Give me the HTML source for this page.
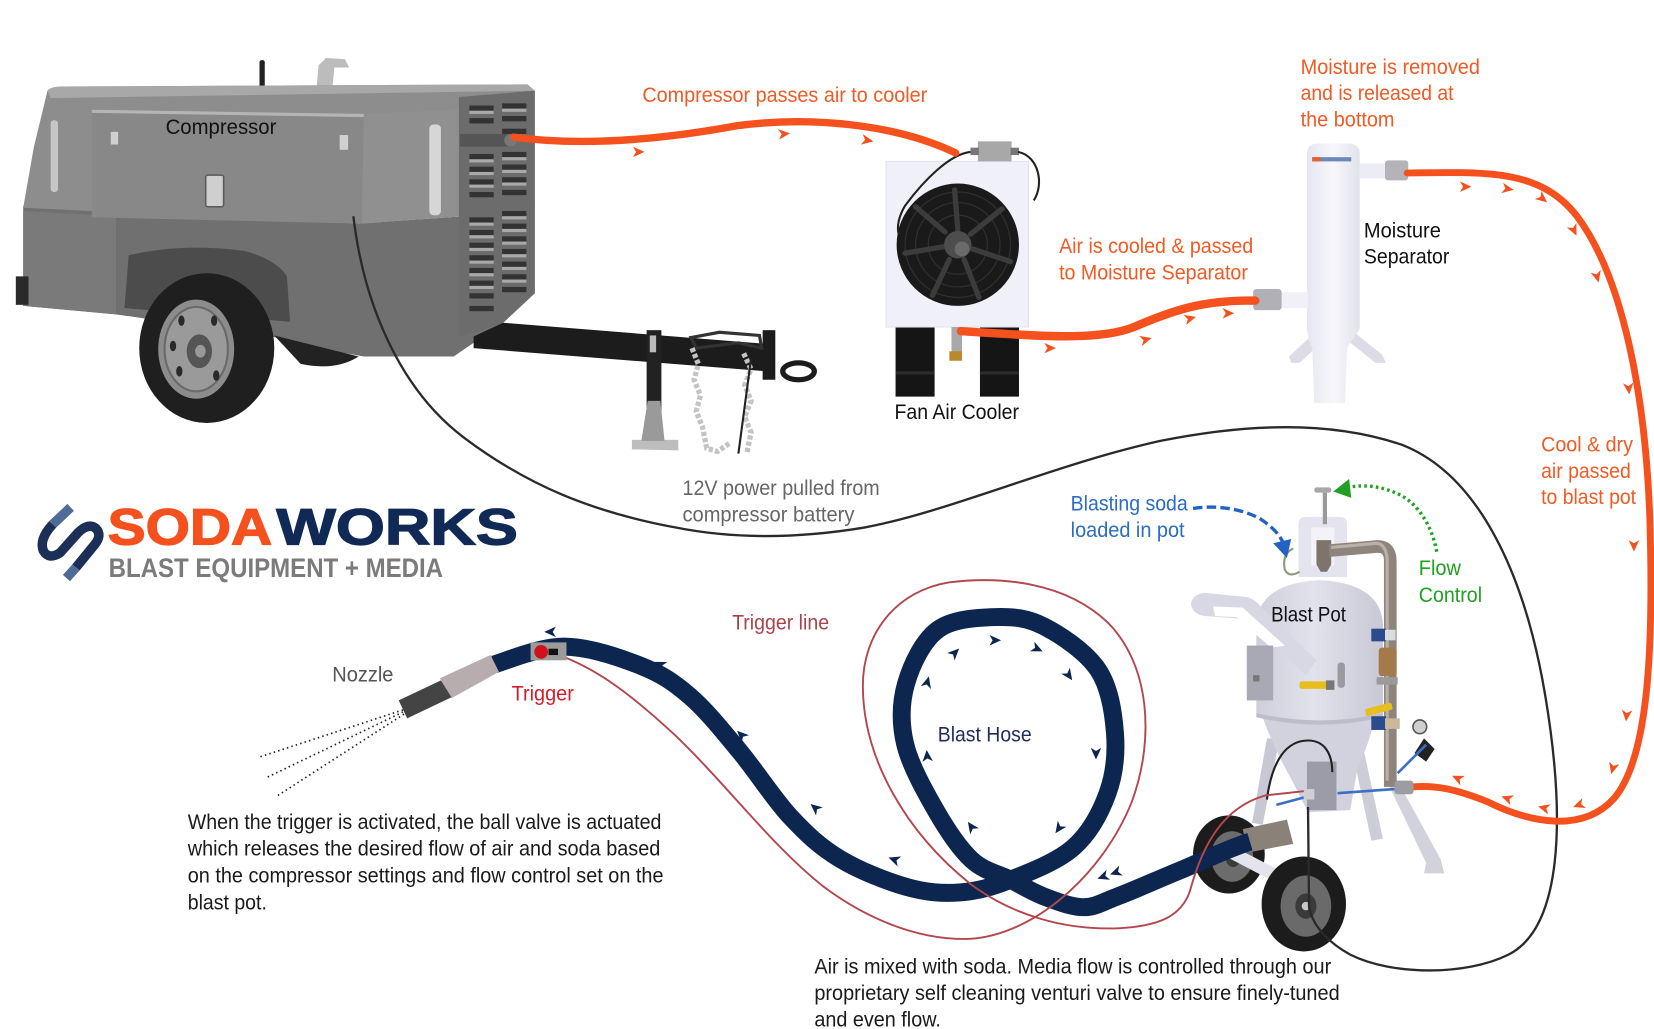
<!DOCTYPE html>
<html><head><meta charset="utf-8"><style>
html,body{margin:0;padding:0;background:#fff;}
svg{display:block;}
text{font-family:"Liberation Sans",Arial,sans-serif;}
</style></head><body>
<svg width="1654" height="1029" viewBox="0 0 1568 975.5" preserveAspectRatio="none" xmlns="http://www.w3.org/2000/svg">
<defs>
<linearGradient id="sep" x1="0" x2="1" y1="0" y2="0"><stop offset="0" stop-color="#e6e6f0"/><stop offset="0.5" stop-color="#f7f7fc"/><stop offset="1" stop-color="#e2e2ec"/></linearGradient>
<linearGradient id="tank" x1="0" x2="1" y1="0" y2="0"><stop offset="0" stop-color="#cfcfdc"/><stop offset="0.45" stop-color="#e2e2ec"/><stop offset="1" stop-color="#c8c8d6"/></linearGradient>
</defs>
<rect x="0" y="0" width="1568" height="976" fill="#fff"/>

<!-- ============ COMPRESSOR ============ -->
<g>
<rect x="246" y="57" width="5" height="26" rx="2" fill="#222"/>
<path d="M300,84 L302,62 L309,55 L327,56 L331,64 L317,64 L315,84 Z" fill="#bcbcbc"/>
<path d="M22,195 L340,212 L440,205 L507,188 L507,278 L477,306 L430,338 L345,338 L300,330 L262,320 L110,298 L22,290 Z" fill="#707070"/>
<path d="M22,200 L110,205 L110,298 L22,290 Z" fill="#7a7a7a"/>
<rect x="15" y="262" width="12" height="27" fill="#2a2a2a"/>
<path d="M45,86 Q48,82 60,82 L500,80 L507,86 L507,190 L440,205 L340,212 L22,197 L32,140 Z" fill="#8d8d8d"/>
<path d="M45,86 Q48,82 60,82 L500,80 L507,86 L48,93 Z" fill="#a8a8a8"/>
<path d="M87,104 L345,108 L343,212 L87,206 Z" fill="#888888"/>
<path d="M87,104 L345,108 L345,111 L87,107 Z" fill="#b5b5b5"/>
<path d="M345,108 L435,104 L435,205 L343,212 Z" fill="#909090"/>
<rect x="407" y="118" width="11" height="86" rx="4" fill="#d6d6d6"/>
<rect x="48" y="114" width="7" height="68" rx="3" fill="#c6c6c6"/>
<rect x="195" y="166" width="17" height="30" rx="2" fill="#cfcfcf" stroke="#5a5a5a" stroke-width="1.5"/>
<rect x="105" y="125" width="7" height="12" fill="#d0d0d0"/>
<rect x="322" y="128" width="8" height="14" fill="#d0d0d0"/>
<path d="M435,92 L507,86 L507,278 L477,306 L435,320 Z" fill="#6c6c6c"/>
<g fill="#333">
<rect x="445" y="100" width="23" height="5"/><rect x="476" y="98" width="23" height="5"/>
<rect x="445" y="112" width="23" height="5"/><rect x="476" y="110" width="23" height="5"/>
<rect x="476" y="122" width="23" height="5"/>
<rect x="445" y="146" width="23" height="5"/><rect x="476" y="144" width="23" height="5"/>
<rect x="445" y="158" width="23" height="5"/><rect x="476" y="156" width="23" height="5"/>
<rect x="445" y="170" width="23" height="5"/><rect x="476" y="168" width="23" height="5"/>
<rect x="445" y="182" width="23" height="5"/><rect x="476" y="180" width="23" height="5"/>
<rect x="445" y="206" width="23" height="5"/><rect x="476" y="200" width="23" height="5"/>
<rect x="445" y="218" width="23" height="5"/><rect x="476" y="212" width="23" height="5"/>
<rect x="445" y="230" width="23" height="5"/><rect x="476" y="224" width="23" height="5"/>
<rect x="445" y="242" width="23" height="5"/><rect x="476" y="236" width="23" height="5"/>
<rect x="445" y="254" width="23" height="5"/><rect x="476" y="248" width="23" height="5"/>
<rect x="445" y="266" width="23" height="5"/><rect x="476" y="260" width="23" height="5"/>
<rect x="445" y="278" width="23" height="5"/><rect x="476" y="272" width="23" height="5"/>
<rect x="445" y="290" width="23" height="5"/>
</g>
<g fill="#a9a9a9">
<rect x="445" y="105" width="23" height="3"/><rect x="476" y="103" width="23" height="3"/>
<rect x="445" y="151" width="23" height="3"/><rect x="476" y="149" width="23" height="3"/>
<rect x="445" y="163" width="23" height="3"/><rect x="476" y="161" width="23" height="3"/>
<rect x="445" y="175" width="23" height="3"/><rect x="476" y="173" width="23" height="3"/>
<rect x="445" y="211" width="23" height="3"/><rect x="476" y="205" width="23" height="3"/>
<rect x="445" y="223" width="23" height="3"/><rect x="476" y="217" width="23" height="3"/>
<rect x="445" y="235" width="23" height="3"/><rect x="476" y="229" width="23" height="3"/>
<rect x="445" y="247" width="23" height="3"/><rect x="476" y="241" width="23" height="3"/>
<rect x="445" y="259" width="23" height="3"/><rect x="476" y="253" width="23" height="3"/>
<rect x="445" y="271" width="23" height="3"/><rect x="476" y="265" width="23" height="3"/>
</g>
<rect x="436" y="127" width="50" height="12" fill="#555"/>
<circle cx="484" cy="133" r="6" fill="#777"/>
<path d="M118,292 L122,242 Q175,230 232,238 Q262,246 272,262 L275,305 Z" fill="#4c4c4c"/>
<path d="M260,318 L340,338 Q318,352 285,345 Z" fill="#222"/>
<ellipse cx="196" cy="330" rx="64" ry="71" fill="#1f1f1f"/>
<ellipse cx="186" cy="331" rx="36" ry="47" fill="#8c8c8c"/>
<ellipse cx="186" cy="331" rx="30" ry="40" fill="#9a9a9a" stroke="#6a6a6a" stroke-width="2"/>
<ellipse cx="189" cy="333" rx="12" ry="16" fill="#555"/>
<ellipse cx="190" cy="333" rx="5" ry="6" fill="#999"/>
<g fill="#2a2a2a"><ellipse cx="172" cy="304" rx="3" ry="5"/><ellipse cx="203" cy="304" rx="3" ry="5"/><ellipse cx="170" cy="352" rx="3" ry="5"/><ellipse cx="205" cy="356" rx="3" ry="5"/><ellipse cx="164" cy="328" rx="3" ry="5"/></g>
<path d="M449,319 L477,306 L727,326 L727,352 L449,330 Z" fill="#1c1c1c"/>
<rect x="723" y="313" width="12" height="47" fill="#1c1c1c"/>
<ellipse cx="757" cy="352" rx="15" ry="8" fill="none" stroke="#1c1c1c" stroke-width="5"/>
<rect x="613" y="313" width="14" height="108" fill="#222"/>
<rect x="616" y="318" width="6" height="16" fill="#bbb"/>
<path d="M599,417 L643,417 L643,427 L599,426 Z" fill="#bdbdbd"/>
<path d="M608,418 L614,380 L626,380 L630,418 Z" fill="#9a9a9a"/>
<path d="M655,320 L682,315 L720,318 L722,330 L700,325 L660,330 Z" fill="none" stroke="#333" stroke-width="3"/>
<path d="M656,330 L662,345 L658,360 L664,375 L660,390 L666,405 L670,425 L680,428 L692,420" fill="none" stroke="#c4c4c4" stroke-width="5" stroke-dasharray="4,2"/>
<path d="M705,335 L712,350 L706,365 L712,380 L706,395 L712,410 L708,430" fill="none" stroke="#c4c4c4" stroke-width="5" stroke-dasharray="4,2"/>
<path d="M712,340 L700,430" stroke="#222" stroke-width="2"/>
</g>

<!-- 12V black cable -->
<path d="M335,205 C345,290 380,370 440,415 C500,460 560,485 640,500 C700,512 760,510 820,500 C900,485 1000,440 1100,418 C1180,402 1260,398 1330,422 C1400,450 1445,540 1465,660 C1485,780 1480,880 1430,905 C1390,925 1320,925 1280,905" fill="none" stroke="#2a2a2a" stroke-width="2.2"/>

<!-- ============ FAN AIR COOLER ============ -->
<g>
<rect x="849" y="310" width="37" height="66" fill="#151515"/>
<rect x="929" y="310" width="37" height="66" fill="#151515"/>
<rect x="849" y="352" width="37" height="3" fill="#2c2c2c"/>
<rect x="929" y="352" width="37" height="3" fill="#2c2c2c"/>
<rect x="840" y="153" width="135" height="157" fill="#f0f0f8" stroke="#e2e2ec" stroke-width="1"/>
<circle cx="908" cy="232" r="58" fill="#1a1a1a"/>
<g stroke="#2f2f2f" fill="none" stroke-width="1.2"><circle cx="908" cy="232" r="50"/><circle cx="908" cy="232" r="40"/><circle cx="908" cy="232" r="28"/></g>
<g stroke="#3c3c3c" stroke-width="5" stroke-linecap="round">
<path d="M908,218 L905,180"/><path d="M920,222 L950,198"/><path d="M922,236 L958,248"/><path d="M914,246 L928,282"/><path d="M900,246 L884,280"/><path d="M894,234 L858,240"/><path d="M896,220 L868,196"/>
</g>
<circle cx="908" cy="232" r="13" fill="#4d4d4d"/>
<circle cx="912" cy="236" r="7" fill="#6a6a6a"/>
<rect x="927" y="134" width="32" height="19" fill="#a8a8a8"/>
<rect x="920" y="140" width="8" height="7" fill="#777"/>
<rect x="958" y="140" width="8" height="7" fill="#777"/>
<path d="M920,144 C900,146 875,172 858,195 C852,205 850,215 852,222" fill="none" stroke="#222" stroke-width="2"/>
<path d="M965,144 C985,148 990,175 980,190" fill="none" stroke="#222" stroke-width="2"/>
<rect x="902" y="310" width="10" height="24" fill="#a9a9a9"/>
<rect x="900" y="333" width="12" height="9" fill="#b98a2c"/>
</g>

<!-- ============ MOISTURE SEPARATOR ============ -->
<g>
<path d="M1250,312 L1222,338 L1224,344 L1232,344 L1258,320 Z" fill="#dcdce6"/>
<path d="M1280,312 L1310,336 L1314,344 L1304,344 L1274,320 Z" fill="#dcdce6"/>
<path d="M1239,312 L1239,146 Q1239,136 1250,136 L1278,136 Q1289,136 1289,146 L1289,312 Q1280,325 1277,330 L1275,382 L1246,382 L1244,330 Q1240,322 1239,312 Z" fill="url(#sep)"/>
<rect x="1289" y="155" width="26" height="14" fill="#ececf4"/>
<rect x="1313" y="152" width="22" height="19" rx="3" fill="#b3b3b8"/>
<rect x="1214" y="277" width="26" height="15" fill="#f0f0f6"/>
<rect x="1188" y="274" width="27" height="20" rx="3" fill="#b0b0b6"/>
<rect x="1244" y="149" width="37" height="4" fill="#6d88b8"/>
<rect x="1244" y="149" width="8" height="4" fill="#e8602c"/>
</g>

<!-- ============ ORANGE HOSES ============ -->
<g fill="none" stroke="#f4511e" stroke-linecap="round">
<path d="M487,130 C560,140 640,130 700,119 C770,110 850,118 906,145" stroke-width="7"/>
<path d="M911,314 C980,318 1040,324 1075,310 C1110,295 1140,284 1190,285" stroke-width="8"/>
<path d="M1334,164 C1410,163 1460,160 1495,205 C1540,265 1560,380 1564,490 C1568,620 1562,720 1530,757 C1500,790 1450,780 1410,760 C1380,748 1360,744 1339,746" stroke-width="6.5"/>
</g>
<g fill="#f4511e">
<path d="M6,0 L-5,-5 L-2,0 L-5,5 Z" transform="translate(605,144) rotate(0)"/>
<path d="M6,0 L-5,-5 L-2,0 L-5,5 Z" transform="translate(743,127) rotate(-5)"/>
<path d="M6,0 L-5,-5 L-2,0 L-5,5 Z" transform="translate(822,133) rotate(10)"/>
<path d="M6,0 L-5,-5 L-2,0 L-5,5 Z" transform="translate(995,330) rotate(0)"/>
<path d="M6,0 L-5,-5 L-2,0 L-5,5 Z" transform="translate(1086,322) rotate(-15)"/>
<path d="M6,0 L-5,-5 L-2,0 L-5,5 Z" transform="translate(1128,302) rotate(-15)"/>
<path d="M6,0 L-5,-5 L-2,0 L-5,5 Z" transform="translate(1164,297) rotate(0)"/>
<path d="M6,0 L-5,-5 L-2,0 L-5,5 Z" transform="translate(1389,177) rotate(0)"/>
<path d="M6,0 L-5,-5 L-2,0 L-5,5 Z" transform="translate(1429,179) rotate(10)"/>
<path d="M6,0 L-5,-5 L-2,0 L-5,5 Z" transform="translate(1462,188) rotate(40)"/>
<path d="M6,0 L-5,-5 L-2,0 L-5,5 Z" transform="translate(1492,218) rotate(65)"/>
<path d="M6,0 L-5,-5 L-2,0 L-5,5 Z" transform="translate(1514,262) rotate(75)"/>
<path d="M6,0 L-5,-5 L-2,0 L-5,5 Z" transform="translate(1544,368) rotate(85)"/>
<path d="M6,0 L-5,-5 L-2,0 L-5,5 Z" transform="translate(1549,517) rotate(90)"/>
<path d="M6,0 L-5,-5 L-2,0 L-5,5 Z" transform="translate(1542,678) rotate(95)"/>
<path d="M6,0 L-5,-5 L-2,0 L-5,5 Z" transform="translate(1529,728) rotate(105)"/>
<path d="M6,0 L-5,-5 L-2,0 L-5,5 Z" transform="translate(1497,763) rotate(160)"/>
<path d="M6,0 L-5,-5 L-2,0 L-5,5 Z" transform="translate(1464,766) rotate(195)"/>
<path d="M6,0 L-5,-5 L-2,0 L-5,5 Z" transform="translate(1429,757) rotate(200)"/>
<path d="M6,0 L-5,-5 L-2,0 L-5,5 Z" transform="translate(1382,738) rotate(205)"/>
</g>

<!-- ============ BLAST POT ============ -->
<g>
<path d="M1312,735 L1322,735 L1366,815 L1369,828 L1350,828 L1352,818 Z" fill="#d2d2dc"/>
<path d="M1282,712 L1293,712 L1311,795 L1300,797 Z" fill="#cdcdd8"/>
<ellipse cx="1165" cy="810" rx="34" ry="37" fill="#1c1c1c"/>
<ellipse cx="1168" cy="812" rx="20" ry="24" fill="#6c6c6c"/>
<ellipse cx="1169" cy="813" rx="7" ry="9" fill="#3a3a3a"/>
<path d="M1170,803 L1234,836 L1229,847 L1166,814 Z" fill="#e4e4ec"/>
<path d="M1201,700 L1213,700 L1197,782 L1187,780 Z" fill="#c8c8d4"/>
<path d="M1195,674 L1305,674 Q1300,700 1287,728 L1280,768 L1240,770 L1226,742 Q1205,705 1195,674 Z" fill="#d2d2de"/>
<path d="M1191,676 L1191,592 Q1193,553 1251,550 Q1309,553 1311,592 L1311,676 Q1251,690 1191,676 Z" fill="url(#tank)"/>
<path d="M1191,676 Q1251,690 1311,676 L1311,680 Q1251,694 1191,680 Z" fill="#bcbccb"/>
<path d="M1129,572 Q1131,563 1142,562 L1182,566 Q1190,568 1196,576 L1248,626 L1238,640 L1206,612 L1190,597 Q1182,588 1170,586 L1142,584 Q1130,582 1129,572 Z" fill="#d8d8e4"/>
<path d="M1150,575 L1178,576 L1218,612 L1205,614 L1172,585 L1152,584 Z" fill="#fff"/>
<rect x="1182" y="612" width="25" height="52" fill="#a9a9b5"/>
<rect x="1188" y="640" width="6" height="6" fill="#777"/>
<path d="M1231,547 L1231,497 Q1231,490 1238,490 L1270,490 Q1277,490 1277,497 L1277,547 Z" fill="#e4e4ee"/>
<rect x="1243" y="500" width="22" height="36" fill="#f2f2f8"/>
<path d="M1248,512 L1262,512 L1262,535 L1258,542 L1252,542 L1248,535 Z" fill="#7d746c"/>
<rect x="1246" y="462" width="16" height="5" rx="2" fill="#a8a8a8"/>
<rect x="1254" y="467" width="4" height="30" fill="#9a9a9a"/>
<path d="M1226,520 Q1215,525 1218,540 Q1222,548 1232,542" fill="none" stroke="#8a9a7a" stroke-width="2"/>
<path d="M1260,522 L1306,518 Q1318,518 1318,532 L1318,746" fill="none" stroke="#8d847c" stroke-width="12"/>
<path d="M1262,519 L1305,515 Q1314,516 1315,530 L1315,740" fill="none" stroke="#b9b1a9" stroke-width="3"/>
<rect x="1300" y="596" width="14" height="12" fill="#2b4b8c"/>
<rect x="1313" y="597" width="10" height="10" fill="#dcdcdc"/>
<rect x="1307" y="614" width="17" height="27" rx="3" fill="#a27a4c"/>
<rect x="1305" y="642" width="20" height="7" fill="#9a9a9a"/>
<rect x="1300" y="679" width="14" height="13" fill="#2b4b8c"/>
<rect x="1313" y="681" width="14" height="10" fill="#cbb89a"/>
<circle cx="1346" cy="689" r="6.5" fill="#d0d0d0" stroke="#555" stroke-width="1.5"/>
<path d="M1350,700 L1360,710 L1352,722 L1341,714 Z" fill="#222"/>
<rect x="1232" y="646" width="26" height="7" rx="2" fill="#e6be1e"/>
<rect x="1257" y="645" width="8" height="9" fill="#777"/>
<rect x="1294" y="669" width="26" height="7" rx="2" fill="#e6be1e" transform="rotate(-15 1307 672)"/>
<rect x="1268" y="628" width="7" height="24" rx="3" fill="#9a9aa0"/>
<rect x="1239" y="722" width="28" height="46" fill="#9c9ca8"/>
<path d="M1201,758 C1206,720 1220,702 1240,702 C1256,702 1263,715 1263,732" fill="none" stroke="#222" stroke-width="2"/>
<path d="M1210,763 L1236,756" stroke="#3b70c8" stroke-width="2.5"/>
<path d="M1268,752 L1322,748" stroke="#3b70c8" stroke-width="2.5"/>
<path d="M1325,733 L1352,706" stroke="#3b70c8" stroke-width="2.5"/>
<rect x="1236" y="748" width="10" height="10" fill="#cfcfd6"/>
<path d="M1178,786 L1220,777 L1226,800 L1184,808 Z" fill="#8a8278"/>
<rect x="1322" y="740" width="18" height="13" rx="3" fill="#9c9ca2"/>
<ellipse cx="1236" cy="857" rx="40" ry="45" fill="#1c1c1c"/>
<ellipse cx="1238" cy="859" rx="24" ry="29" fill="#6a6a6a"/>
<ellipse cx="1238" cy="859" rx="10" ry="12" fill="#3a3a3a"/>
<circle cx="1238" cy="859" r="4" fill="#c8c8c8"/>
</g>
<path d="M1280,905 C1262,895 1245,880 1241,860 L1240,765" fill="none" stroke="#2a2a2a" stroke-width="2.2"/>

<!-- ============ BLAST HOSE ============ -->
<path d="M468,630 C479,627 511.8,612.8 535,613 C558.2,613.2 587.2,623.2 607,631 C626.8,638.8 638.3,646.5 654,660 C669.7,673.5 685.2,693 701,712 C716.8,731 733.2,757 749,774 C764.8,791 777.5,802.8 796,814 C814.5,825.2 841,835.7 860,841 C879,846.3 893.7,847.2 910,846 C926.3,844.8 940,841.2 958,834 C976,826.8 1002.7,816.7 1018,803 C1033.3,789.3 1043.5,770 1050,752 C1056.5,734 1058.5,714.5 1057,695 C1055.5,675.5 1052.2,651.8 1041,635 C1029.8,618.2 1006.2,602.3 990,594 C973.8,585.7 960.8,584.5 944,585 C927.2,585.5 903.2,586.5 889,597 C874.8,607.5 864.2,630 859,648 C853.8,666 853.3,685 858,705 C862.7,725 876.5,749.7 887,768 C897.5,786.3 909.2,804 921,815 C932.8,826 946.5,828.2 958,834 C969.5,839.8 978.5,845.7 990,850 C1001.5,854.3 1015.5,860 1027,860 C1038.5,860 1043.7,855.8 1059,850 C1074.3,844.2 1098.3,833.5 1119,825 C1139.7,816.5 1165,804 1185,798" fill="none" stroke="#0c2650" stroke-width="17"/>

<!-- trigger line -->
<path d="M535,623 C570,637 600,660 640,697 C690,745 730,800 780,840 C820,870 870,892 920,890 C980,886 1045,830 1073,760 C1095,700 1090,630 1050,590 C1010,552 950,546 900,552 C850,560 818,600 818,650 C818,720 860,790 920,838 C960,868 1010,882 1060,880 C1100,878 1120,868 1128,845 C1140,800 1160,765 1200,754 L1236,750" fill="none" stroke="#b3474e" stroke-width="1.8"/>

<!-- navy arrows -->
<g fill="#0c2650">
<path d="M6,0 L-5,-5 L-2,0 L-5,5 Z" transform="translate(522,599) rotate(180)"/>
<path d="M6,0 L-5,-5 L-2,0 L-5,5 Z" transform="translate(626,630) rotate(205)"/>
<path d="M6,0 L-5,-5 L-2,0 L-5,5 Z" transform="translate(703,697) rotate(225)"/>
<path d="M6,0 L-5,-5 L-2,0 L-5,5 Z" transform="translate(773,766) rotate(220)"/>
<path d="M6,0 L-5,-5 L-2,0 L-5,5 Z" transform="translate(848,815) rotate(200)"/>
<path d="M6,0 L-5,-5 L-2,0 L-5,5 Z" transform="translate(921,784) rotate(235)"/>
<path d="M6,0 L-5,-5 L-2,0 L-5,5 Z" transform="translate(879,717) rotate(265)"/>
<path d="M6,0 L-5,-5 L-2,0 L-5,5 Z" transform="translate(879,647) rotate(285)"/>
<path d="M6,0 L-5,-5 L-2,0 L-5,5 Z" transform="translate(905,619) rotate(315)"/>
<path d="M6,0 L-5,-5 L-2,0 L-5,5 Z" transform="translate(943,607) rotate(0)"/>
<path d="M6,0 L-5,-5 L-2,0 L-5,5 Z" transform="translate(983,615) rotate(25)"/>
<path d="M6,0 L-5,-5 L-2,0 L-5,5 Z" transform="translate(1013,640) rotate(55)"/>
<path d="M6,0 L-5,-5 L-2,0 L-5,5 Z" transform="translate(1039,714) rotate(90)"/>
<path d="M6,0 L-5,-5 L-2,0 L-5,5 Z" transform="translate(1004,785) rotate(125)"/>
<path d="M6,0 L-5,-5 L-2,0 L-5,5 Z" transform="translate(1046,831) rotate(160)"/>
<path d="M6,0 L-5,-5 L-2,0 L-5,5 Z" transform="translate(1058,827) rotate(160)"/>
</g>

<!-- nozzle & trigger -->
<path d="M417,643 L465,621 L473,637 L428,662 Z" fill="#b8adae"/>
<path d="M378,664 L418,645 L428,661 L386,681 Z" fill="#444"/>
<g fill="none" stroke="#222" stroke-width="1.6" stroke-dasharray="1.4,3">
<path d="M382,673 L245,718"/><path d="M382,675 L253,737"/><path d="M383,677 L262,755"/>
</g>
<rect x="503" y="609" width="34" height="17" fill="#9b9b9b"/>
<circle cx="513" cy="618" r="6.5" fill="#d0101a"/>
<rect x="520" y="615" width="9" height="6" fill="#111"/>

<!-- blue dashed arrow -->
<path d="M1131,482 C1150,479 1175,481 1195,492 C1207,500 1214,508 1217,516" fill="none" stroke="#2361c2" stroke-width="3.2" stroke-dasharray="9,4"/>
<path d="M1207,515 L1224,511 L1220,529 Z" fill="#2361c2"/>
<!-- green dotted arrow -->
<path d="M1362,523 C1358,500 1345,478 1327,469 C1310,461 1295,459 1278,462" fill="none" stroke="#22a022" stroke-width="3.2" stroke-dasharray="2.5,3"/>
<path d="M1264,466 L1279,454 L1281,472 Z" fill="#22a022"/>

<!-- ============ TEXT ============ -->
<g font-size="20">
<text x="609" y="96.5" fill="#f15a24" textLength="270" lengthAdjust="spacingAndGlyphs">Compressor passes air to cooler</text>
<text x="157" y="127" fill="#111" textLength="105" lengthAdjust="spacingAndGlyphs">Compressor</text>
<text x="1233" y="70" fill="#f15a24" textLength="170" lengthAdjust="spacingAndGlyphs">Moisture is removed</text>
<text x="1233" y="95" fill="#f15a24" textLength="145" lengthAdjust="spacingAndGlyphs">and is released at</text>
<text x="1233" y="120" fill="#f15a24" textLength="89" lengthAdjust="spacingAndGlyphs">the bottom</text>
<text x="1004" y="240" fill="#f15a24" textLength="184" lengthAdjust="spacingAndGlyphs">Air is cooled &amp; passed</text>
<text x="1004" y="265" fill="#f15a24" textLength="179" lengthAdjust="spacingAndGlyphs">to Moisture Separator</text>
<text x="1293" y="225" fill="#111" textLength="73" lengthAdjust="spacingAndGlyphs">Moisture</text>
<text x="1293" y="250" fill="#111" textLength="81" lengthAdjust="spacingAndGlyphs">Separator</text>
<text x="848" y="397" fill="#111" textLength="118" lengthAdjust="spacingAndGlyphs">Fan Air Cooler</text>
<text x="647" y="469.5" fill="#666" textLength="187" lengthAdjust="spacingAndGlyphs">12V power pulled from</text>
<text x="647" y="494.5" fill="#666" textLength="163" lengthAdjust="spacingAndGlyphs">compressor battery</text>
<text x="1461" y="428" fill="#f15a24" textLength="87" lengthAdjust="spacingAndGlyphs">Cool &amp; dry</text>
<text x="1461" y="453" fill="#f15a24" textLength="85" lengthAdjust="spacingAndGlyphs">air passed</text>
<text x="1461" y="478" fill="#f15a24" textLength="90" lengthAdjust="spacingAndGlyphs">to blast pot</text>
<text x="1015" y="484" fill="#2b6cc4" textLength="111" lengthAdjust="spacingAndGlyphs">Blasting soda</text>
<text x="1015" y="509" fill="#2b6cc4" textLength="108" lengthAdjust="spacingAndGlyphs">loaded in pot</text>
<text x="1345" y="545" fill="#22a022" textLength="40" lengthAdjust="spacingAndGlyphs">Flow</text>
<text x="1345" y="570.5" fill="#22a022" textLength="60" lengthAdjust="spacingAndGlyphs">Control</text>
<text x="1205" y="589" fill="#111" textLength="71" lengthAdjust="spacingAndGlyphs">Blast Pot</text>
<text x="694" y="597" fill="#a9444c" textLength="92" lengthAdjust="spacingAndGlyphs">Trigger line</text>
<text x="315" y="646" fill="#555" textLength="58" lengthAdjust="spacingAndGlyphs">Nozzle</text>
<text x="485" y="664" fill="#d01f2a" textLength="59" lengthAdjust="spacingAndGlyphs">Trigger</text>
<text x="889" y="703" fill="#1e2d5a" textLength="89" lengthAdjust="spacingAndGlyphs">Blast Hose</text>
<text x="178" y="786" fill="#1a1a1a" textLength="449" lengthAdjust="spacingAndGlyphs">When the trigger is activated, the ball valve is actuated</text>
<text x="178" y="811" fill="#1a1a1a" textLength="448" lengthAdjust="spacingAndGlyphs">which releases the desired flow of air and soda based</text>
<text x="178" y="836.5" fill="#1a1a1a" textLength="451" lengthAdjust="spacingAndGlyphs">on the compressor settings and flow control set on the</text>
<text x="178" y="862" fill="#1a1a1a" textLength="75" lengthAdjust="spacingAndGlyphs">blast pot.</text>
<text x="772" y="923" fill="#1a1a1a" textLength="490" lengthAdjust="spacingAndGlyphs">Air is mixed with soda. Media flow is controlled through our</text>
<text x="772" y="948" fill="#1a1a1a" textLength="498" lengthAdjust="spacingAndGlyphs">proprietary self cleaning venturi valve to ensure finely-tuned</text>
<text x="772" y="973" fill="#1a1a1a" textLength="120" lengthAdjust="spacingAndGlyphs">and even flow.</text>
</g>

<!-- ============ LOGO ============ -->
<g>
<path d="M50,497 Q37,511 41,522 Q46,531 57,524 L74,505 Q84,495 91,501 Q97,507 90,516 L72,538" fill="none" stroke="#1b2f57" stroke-width="9"/>
<path d="M67,481 L50,497" stroke="#4f6b98" stroke-width="9"/>
<path d="M72,538 L63,548" stroke="#4f6b98" stroke-width="9"/>
<text x="102" y="516" font-size="48" font-weight="bold" fill="#f4511e" stroke="#f4511e" stroke-width="1.2" textLength="156" lengthAdjust="spacingAndGlyphs">SODA</text>
<text x="262" y="516" font-size="48" font-weight="bold" fill="#112a55" stroke="#112a55" stroke-width="1.2" textLength="229" lengthAdjust="spacingAndGlyphs">WORKS</text>
<text x="103" y="547" font-size="25" font-weight="bold" fill="#7b7b7b" textLength="317" lengthAdjust="spacingAndGlyphs">BLAST EQUIPMENT + MEDIA</text>
</g>
</svg>
</body></html>
